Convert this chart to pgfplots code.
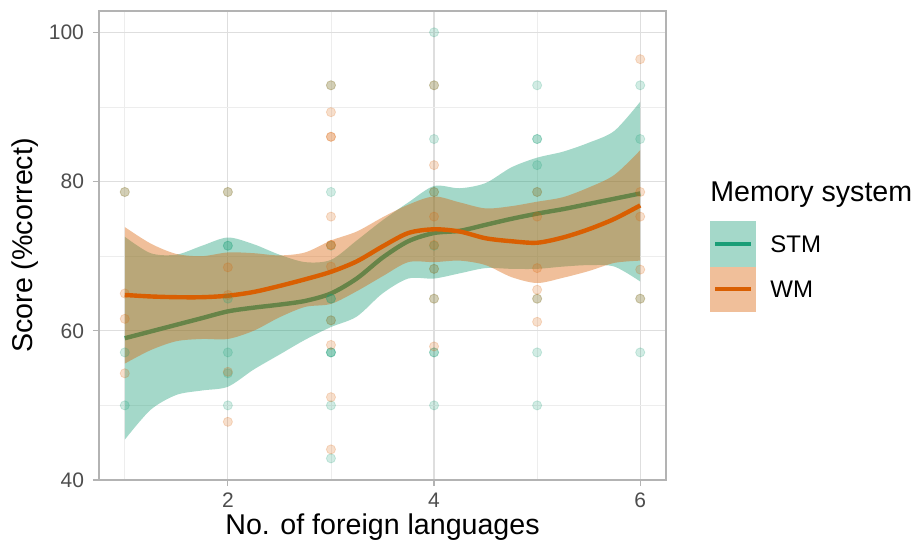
\documentclass[border=0pt]{standalone}
\usepackage{fontspec}
\setmainfont{Liberation Sans}
\usepackage{pgfplots}
\usepackage{pgfplotstable}
\pgfplotsset{compat=1.18}
\usepgfplotslibrary{fillbetween}

\definecolor{stm}{HTML}{1B9E77}
\definecolor{wm}{HTML}{D95F02}
\definecolor{grey70}{HTML}{B3B3B3}
\definecolor{grey87}{HTML}{DEDEDE}
\definecolor{grey93}{HTML}{EDEDED}
\definecolor{grey30}{HTML}{4D4D4D}

% loess fits with confidence band
\pgfplotstableread{
x    fit  lo   hi
1.00 59.0 45.4 72.6
1.25 59.9 49.4 70.4
1.50 60.8 51.4 70.2
1.75 61.7 52.0 71.4
2.00 62.6 52.5 72.5
2.25 63.1 54.8 71.6
2.50 63.5 56.8 70.2
2.75 64.0 58.8 69.2
3.00 65.0 60.5 69.5
3.25 67.0 61.9 72.1
3.50 69.8 65.0 74.8
3.75 72.0 67.0 77.2
4.00 73.1 67.0 79.4
4.25 73.4 67.7 79.1
4.50 74.2 68.4 79.8
4.75 75.0 68.3 81.9
5.00 75.7 68.3 83.2
5.25 76.3 68.6 84.0
5.50 77.0 68.8 85.2
5.75 77.7 68.6 86.8
6.00 78.4 66.6 90.7
}\stmfit

\pgfplotstableread{
x    fit  lo   hi
1.00 64.8 55.6 73.9
1.25 64.6 57.4 71.7
1.50 64.5 58.6 70.3
1.75 64.5 58.9 70.0
2.00 64.7 58.9 70.5
2.25 65.2 60.0 70.4
2.50 66.0 61.8 70.1
2.75 66.9 63.2 70.5
3.00 67.9 63.6 72.1
3.25 69.3 65.3 73.3
3.50 71.3 67.3 75.2
3.75 73.1 69.2 76.9
4.00 73.6 69.2 78.0
4.25 73.3 69.4 77.2
4.50 72.4 68.8 76.4
4.75 72.0 67.2 76.7
5.00 71.8 66.4 77.3
5.25 72.5 67.1 77.9
5.50 73.6 68.0 79.2
5.75 75.0 69.1 80.9
6.00 76.8 69.4 84.2
}\wmfit

% raw scores
\pgfplotstableread{
x y
1 78.6
1 57.1
1 50.0
2 78.6
2 71.4
2 71.4
2 64.3
2 57.1
2 54.3
2 50.0
3 92.9
3 78.6
3 71.4
3 64.3
3 64.3
3 61.4
3 57.1
3 57.1
3 57.1
3 50.0
3 42.9
4 100
4 92.9
4 85.7
4 78.6
4 71.4
4 68.3
4 64.3
4 57.1
4 57.1
4 50.0
5 92.9
5 85.7
5 85.7
5 82.2
5 78.6
5 64.3
5 57.1
5 50.0
6 92.9
6 85.7
6 64.3
6 57.1
}\stmpts

\pgfplotstableread{
x y
1 78.6
1 65.0
1 61.6
1 54.3
2 78.6
2 68.5
2 64.8
2 54.5
2 47.8
3 92.9
3 89.3
3 86.0
3 86.0
3 75.3
3 71.5
3 71.5
3 68.6
3 61.4
3 58.1
3 51.1
3 44.1
4 92.9
4 82.2
4 78.6
4 75.3
4 71.5
4 68.3
4 64.3
4 57.9
5 78.6
5 75.3
5 68.4
5 65.5
5 64.3
5 61.2
6 96.4
6 78.6
6 75.3
6 68.2
6 64.3
}\wmpts

\begin{document}
\begin{tikzpicture}
\begin{axis}[
    set layers,
    scale only axis,
    width=283.5pt, height=234.5pt,
    xmin=0.75, xmax=6.25,
    ymin=40, ymax=102.857,
    xtick={2,4,6}, minor xtick={1,3,5},
    ytick={40,60,80,100}, minor ytick={50,70,90},
    grid=both,
    major grid style={color=grey87, line width=0.6pt},
    minor grid style={color=grey93, line width=0.3pt},
    axis line style={grey70, line width=0.7pt},
    tick style={grey70, line width=0.6pt},
    major tick length=3pt, minor tick length=0pt,
    tick align=outside, tick pos=left,
    /pgf/number format/assume math mode=true,
    ticklabel style={font=\fontsize{10.5}{12}\selectfont, text=grey30},
    yticklabel style={xshift=-1pt},
    xlabel={No. of foreign languages},
    ylabel={Score (\%correct)},
    xlabel style={font=\fontsize{14.3}{16}\selectfont, at={(axis description cs:0.5,-0.1002)}, anchor=center},
    ylabel style={font=\fontsize{14.3}{16}\selectfont, at={(axis description cs:-0.1305,0.5)}, anchor=center},
]
% points (under the bands); everything up to the WM band sits on pre main, in code order
\addplot[on layer=pre main, only marks, mark=*, mark size=2.3pt, color=stm, opacity=0.2] table[x=x,y=y]{\stmpts};
\addplot[on layer=pre main, only marks, mark=*, mark size=2.3pt, color=wm, opacity=0.2] table[x=x,y=y]{\wmpts};

% STM band and fit
\addplot[name path=stmhi, draw=none, smooth] table[x=x,y=hi]{\stmfit};
\addplot[name path=stmlo, draw=none, smooth] table[x=x,y=lo]{\stmfit};
\addplot[fill=stm, fill opacity=0.4, draw=none] fill between[of=stmhi and stmlo];
\addplot[on layer=pre main, stm, line width=2.2pt, smooth] table[x=x,y=fit]{\stmfit};

% WM band (over the STM line) and fit
\addplot[name path=wmhi, draw=none, smooth] table[x=x,y=hi]{\wmfit};
\addplot[name path=wmlo, draw=none, smooth] table[x=x,y=lo]{\wmfit};
\addplot[fill=wm, fill opacity=0.4, draw=none] fill between[of=wmhi and wmlo];
\addplot[wm, line width=2.2pt, smooth] table[x=x,y=fit]{\wmfit};
\end{axis}

% legend
\node[anchor=base west, inner sep=0pt, font=\fontsize{14.3}{16}\selectfont] at (305.5pt,139pt) {Memory system};
\fill[stm!40] (305.5pt,106.5pt) rectangle (328.5pt,129.5pt);
\draw[stm, line width=2pt] (308pt,118pt) -- (326pt,118pt);
\fill[wm!40] (305.5pt,84pt) rectangle (328.5pt,106.5pt);
\draw[wm, line width=2pt] (308pt,95.25pt) -- (326pt,95.25pt);
\node[anchor=west, inner sep=0pt, font=\fontsize{12}{14}\selectfont] at (335.5pt,118pt) {STM};
\node[anchor=west, inner sep=0pt, font=\fontsize{12}{14}\selectfont] at (335.5pt,95.25pt) {WM};

\pgfresetboundingbox
\useasboundingbox (-49.5pt,-35.5pt) rectangle (407.5pt,240pt);
\end{tikzpicture}
\end{document}
